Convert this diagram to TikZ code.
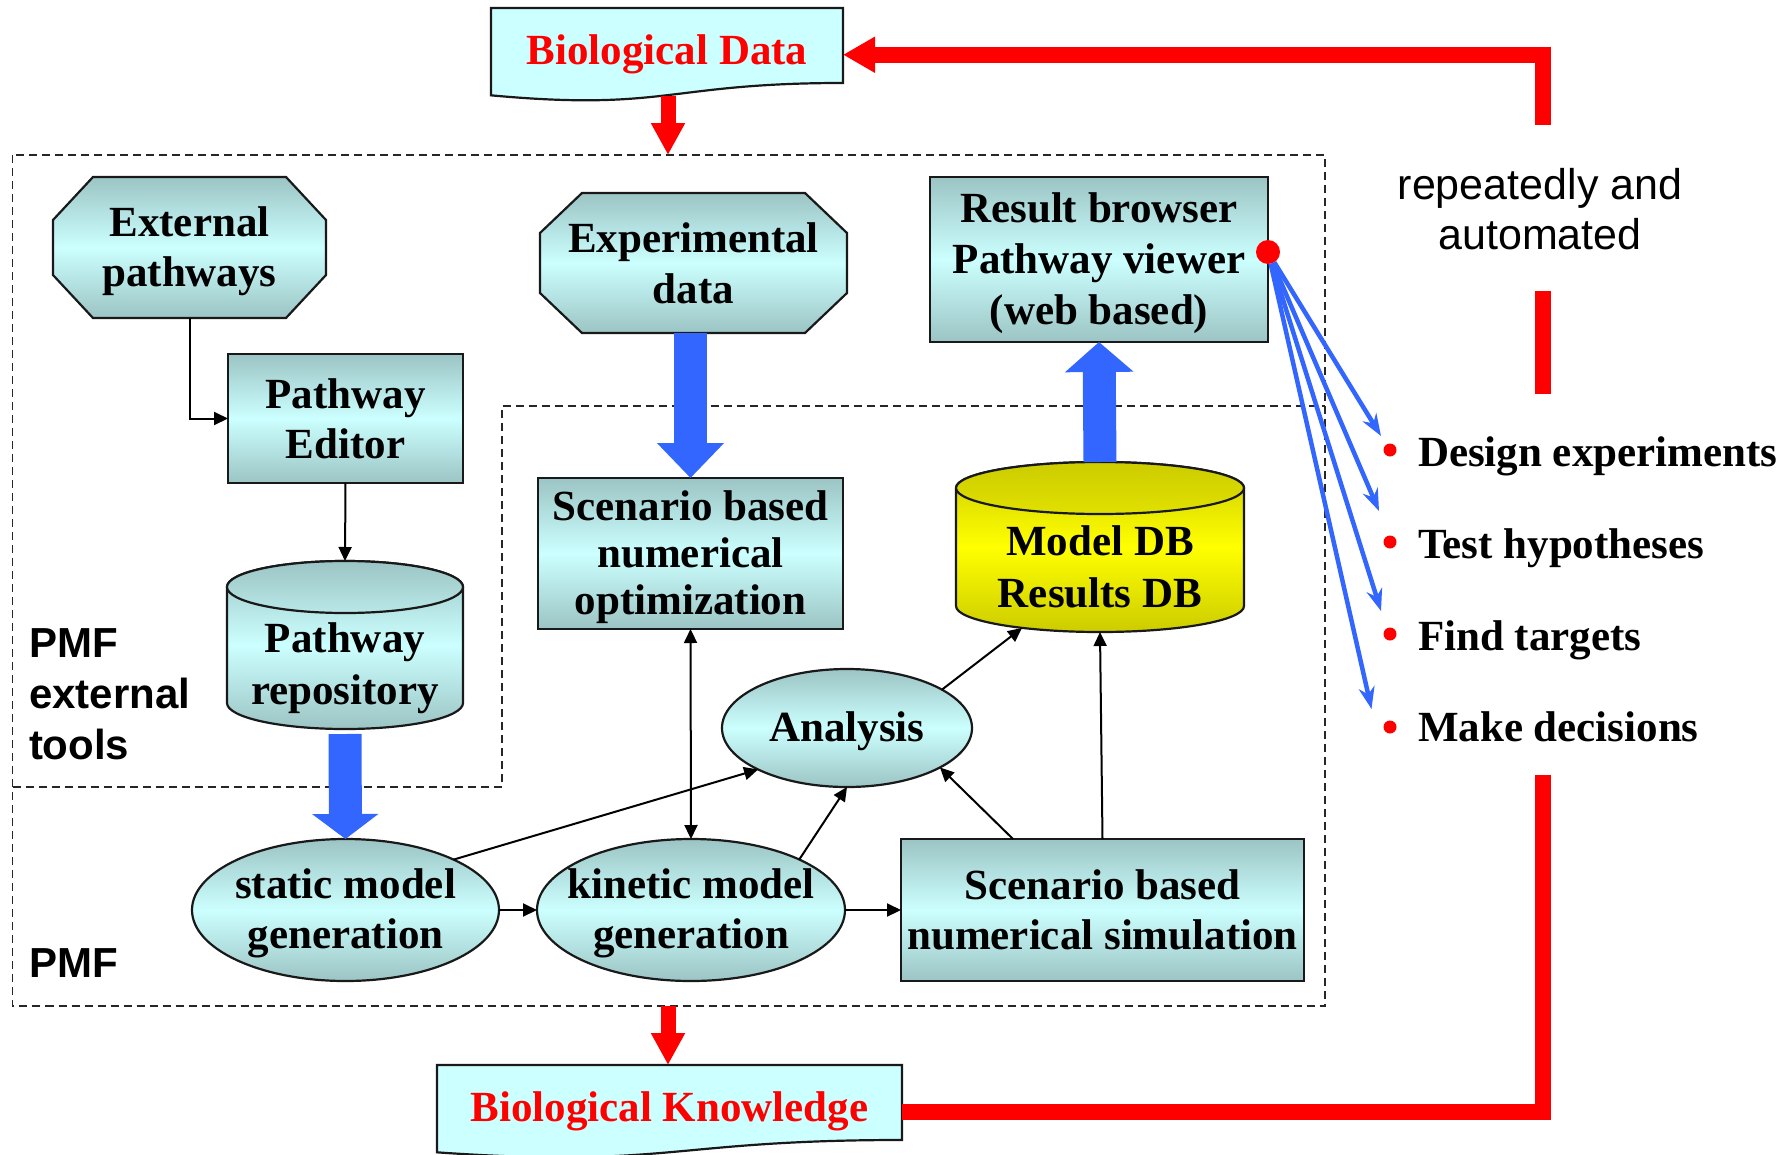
\documentclass[tikz,border=0pt]{standalone}
\usepackage{fontspec}
\setmainfont{Liberation Serif}
\setsansfont{Liberation Sans}
\usetikzlibrary{arrows.meta,calc,backgrounds,shapes.geometric}

\definecolor{tealD}{RGB}{156,196,196}
\definecolor{tealL}{RGB}{204,255,255}
\definecolor{docfill}{RGB}{204,255,255}
\definecolor{ylwD}{RGB}{204,204,0}
\definecolor{ylwL}{RGB}{255,255,0}
\definecolor{arrowblue}{RGB}{51,102,255}
\definecolor{pptred}{RGB}{255,0,0}

% struts giving every text block the same line metrics
\newcommand\boxtopstrut{\rule{0pt}{37pt}}
\newcommand\boxbotstrut{\rule[-8pt]{0pt}{8pt}}
\newcommand\cyltopstrut{\rule{0pt}{77pt}}
\newcommand\cylbotstrut{\rule[-9pt]{0pt}{9pt}}

\begin{document}
\begin{tikzpicture}[x=1pt,y=-1pt,
  every node/.style={inner sep=0pt, outer sep=0pt},
  lbl/.style={font=\fontsize{43}{50}\selectfont\bfseries, align=center},
  tealshade/.style={top color=tealD, bottom color=tealD, middle color=tealL},
  outline/.style={draw=black!90, line width=2.2pt},
  box/.style={lbl, rectangle, outline, tealshade},
  oval/.style={lbl, ellipse, outline, tealshade, inner xsep=-45pt, inner ysep=-25pt},
  bare/.style={lbl, rectangle},
  cyl/.style={rectangle, font=\fontsize{43}{52}\selectfont\bfseries, align=center},
  dashbox/.style={draw=black!85, line width=1.6pt, dash pattern=on 8pt off 5pt},
  thinarrow/.style={draw=black, line width=2pt, -{Triangle[length=14pt,width=13pt]}},
  thinboth/.style={draw=black, line width=2pt, {Triangle[length=14pt,width=13pt]}-{Triangle[length=14pt,width=13pt]}},
  fatblue/.style={draw=arrowblue, line width=33pt},
  redarrow/.style={draw=pptred, line width=15pt, -{Triangle[length=32pt,width=32pt]}},
  redloop/.style={draw=pptred, line width=16pt, line join=miter},
  fanarrow/.style={draw=arrowblue, line width=4.5pt, -{Stealth[length=22pt,width=16pt]}},
  bulletdot/.style={circle, fill=pptred, minimum size=13pt},
  itemtxt/.style={font=\fontsize{43}{50}\selectfont\bfseries, anchor=base west},
  sanslbl/.style={font=\fontsize{42}{51}\selectfont\sffamily\bfseries, align=left}
]
\useasboundingbox (0,0) rectangle (1791,1154);

% ---------- nodes ----------
\node[lbl, text=pptred, minimum width=352, minimum height=93.5] (bd) at (667,54.75) {Biological Data};
\node[lbl, text=pptred, minimum width=465, minimum height=93.5] (bk) at (669.5,1111.75) {Biological Knowledge};

\node[bare, minimum width=273, minimum height=141] (ep) at (189.5,247.5)
  {\boxtopstrut External\\pathways\boxbotstrut};
\node[box, minimum width=235, minimum height=129] (pe) at (345.5,418.5)
  {\boxtopstrut Pathway\\Editor\boxbotstrut};
\node[cyl, minimum width=236, minimum height=168] (repo) at (345,645)
  {\cyltopstrut Pathway\\repository\cylbotstrut};

\node[bare, minimum width=307, minimum height=140, font=\fontsize{43}{51}\selectfont\bfseries] (exp) at (693.5,263)
  {\boxtopstrut Experimental\\data\boxbotstrut};
\node[box, minimum width=305, minimum height=151, font=\fontsize{43}{47}\selectfont\bfseries] (opt) at (690.5,553.5)
  {\boxtopstrut Scenario based\\numerical\\optimization\boxbotstrut};
\node[box, minimum width=338, minimum height=165, font=\fontsize{43}{51}\selectfont\bfseries] (rb) at (1099,259.5)
  {\boxtopstrut Result browser\\Pathway viewer\\(web based)\boxbotstrut};
\node[cyl, minimum width=288, minimum height=170] (mdb) at (1100,547)
  {\cyltopstrut Model DB\\Results DB\cylbotstrut};

\node[oval, minimum width=250, minimum height=118] (ana) at (847,728)
  {\boxtopstrut Analysis\boxbotstrut};
\node[oval, minimum width=307, minimum height=142] (smg) at (345.5,910)
  {\boxtopstrut static model\\generation\boxbotstrut};
\node[oval, minimum width=308, minimum height=142] (kmg) at (691,910)
  {\boxtopstrut kinetic model\\generation\boxbotstrut};
\node[box, minimum width=403, minimum height=142] (sim) at (1102.5,910)
  {\boxtopstrut Scenario based\\numerical simulation\boxbotstrut};

\node[sanslbl, anchor=north west] (pmfext) at (29,627) {\rule{0pt}{30pt}PMF\\external\\tools};
\node[sanslbl, anchor=base west] (pmf) at (29,977) {PMF};

\node[font=\fontsize{43}{50}\selectfont\sffamily, align=center, anchor=north] (loopnote) at (1540,168)
  {\rule{0pt}{31pt}repeatedly and\\automated};

\node[bulletdot] (b1) at (1390,450) {};
\node[bulletdot] (b2) at (1390,542) {};
\node[bulletdot] (b3) at (1390,634) {};
\node[bulletdot] (b4) at (1390,727) {};
\node[itemtxt] (i1) at (1418,466) {Design experiments};
\node[itemtxt] (i2) at (1418,558) {Test hypotheses};
\node[itemtxt] (i3) at (1418,650) {Find targets};
\node[itemtxt] (i4) at (1418,741) {Make decisions};

% free ends of the connectors
\coordinate (pmftop) at (668,155);
\coordinate (pmfbot) at (668,1006);
\coordinate (rtop) at (1543,125);
\coordinate (rmidA) at (1543,291);
\coordinate (rmidB) at (1543,394);
\coordinate (rbot) at (1543,775);
\coordinate (t1) at (1381,436);
\coordinate (t2) at (1379,511);
\coordinate (t3) at (1381,611);
\coordinate (t4) at (1371.5,709);

% ---------- shapes behind the texts ----------
\begin{scope}[on background layer]
  % framework regions
  \draw[dashbox] (12.5,155) rectangle (1325,1006);
  \draw[dashbox] (12.5,786.7) -- (502,786.7) -- (502,406) -- (1325,406);

  % document shapes
  \path[outline, fill=docfill] (bd.north west) -- (bd.north east)
    -- ($(bd.north east)!0.802!(bd.south east)$)
    .. controls ($(bd.north)!0.802!(bd.south)$) and ($(bd.north)!1.107!(bd.south)$)
    .. ($(bd.north west)!0.934!(bd.south west)$) -- cycle;
  \path[outline, fill=docfill] (bk.north west) -- (bk.north east)
    -- ($(bk.north east)!0.802!(bk.south east)$)
    .. controls ($(bk.north)!0.802!(bk.south)$) and ($(bk.north)!1.107!(bk.south)$)
    .. ($(bk.north west)!0.934!(bk.south west)$) -- cycle;

  % octagons
  \path[outline, tealshade] ($(ep.north west)+(40,0)$) -- ($(ep.north east)+(-40,0)$)
    -- ($(ep.north east)+(0,43)$) -- ($(ep.south east)+(0,-43)$)
    -- ($(ep.south east)+(-40,0)$) -- ($(ep.south west)+(40,0)$)
    -- ($(ep.south west)+(0,-43)$) -- ($(ep.north west)+(0,43)$) -- cycle;
  \path[outline, tealshade] ($(exp.north west)+(42,0)$) -- ($(exp.north east)+(-42,0)$)
    -- ($(exp.north east)+(0,40)$) -- ($(exp.south east)+(0,-40)$)
    -- ($(exp.south east)+(-42,0)$) -- ($(exp.south west)+(42,0)$)
    -- ($(exp.south west)+(0,-40)$) -- ($(exp.north west)+(0,40)$) -- cycle;

  % cylinders
  \path[outline, tealshade] ($(repo.north west)+(0,26)$)
    arc[start angle=180, end angle=0, x radius=118pt, y radius=26pt]
    -- ($(repo.south east)+(0,-26)$)
    arc[start angle=0, end angle=-180, x radius=118pt, y radius=26pt] -- cycle;
  \path[outline, top color=tealD, bottom color=tealL!60!tealD]
    ($(repo.north)+(0,26)$) ellipse[x radius=118pt, y radius=26pt];

  \path[outline, top color=ylwD, bottom color=ylwD, middle color=ylwL] ($(mdb.north west)+(0,26)$)
    arc[start angle=180, end angle=0, x radius=144pt, y radius=26pt]
    -- ($(mdb.south east)+(0,-26)$)
    arc[start angle=0, end angle=-180, x radius=144pt, y radius=26pt] -- cycle;
  \path[outline, top color=ylwD, bottom color=ylwL!40!ylwD]
    ($(mdb.north)+(0,26)$) ellipse[x radius=144pt, y radius=26pt];
\end{scope}

% ---------- connectors ----------
\draw[redarrow] ($(pmftop |- bd.south)+(0,-6)$) -- (pmftop);
\draw[redarrow] (pmfbot) -- (pmfbot |- bk.north);
\draw[redloop, -{Triangle[length=32pt,width=34pt]}] (rtop) |- (bd.east);
\draw[redloop] (rmidA) -- (rmidB);
\draw[redloop] (rbot) |- (bk.east);

\draw[fatblue, -{Triangle[length=35pt,width=65pt]}] (exp.south -| opt.north) -- (opt.north);
\draw[fatblue, -{Triangle[length=25pt,width=65pt]}] ($(repo.south)+(0,5)$) -- (smg.north);
\draw[fatblue, -{Triangle[length=30pt,width=67pt]}] (mdb.north) -- (rb.south);

\draw[thinarrow] (ep.south) |- (pe.west);
\draw[thinarrow] (pe.south) -- (repo.north);
\draw[thinarrow] (smg.east) -- (kmg.west);
\draw[thinarrow] (kmg.east) -- (sim.west);
\draw[thinboth] (opt.south) -- (kmg.north);
\draw[thinarrow] (smg.25) -- (ana.205);
\draw[thinarrow] (kmg.25) -- (ana.south);
\draw[thinarrow] ($(sim.north)+(-89.5,0)$) -- (ana.-23);
\draw[thinarrow] (ana.22) -- ($(mdb.south)+(-78,-4)$);
\draw[thinarrow] (sim.north) -- (mdb.south);

\node[circle, fill=pptred, minimum size=24pt] (hub) at (1268,252) {};
\draw[fanarrow] (hub) -- (t1);
\draw[fanarrow] (hub) -- (t2);
\draw[fanarrow] (hub) -- (t3);
\draw[fanarrow] (hub) -- (t4);
\end{tikzpicture}
\end{document}
